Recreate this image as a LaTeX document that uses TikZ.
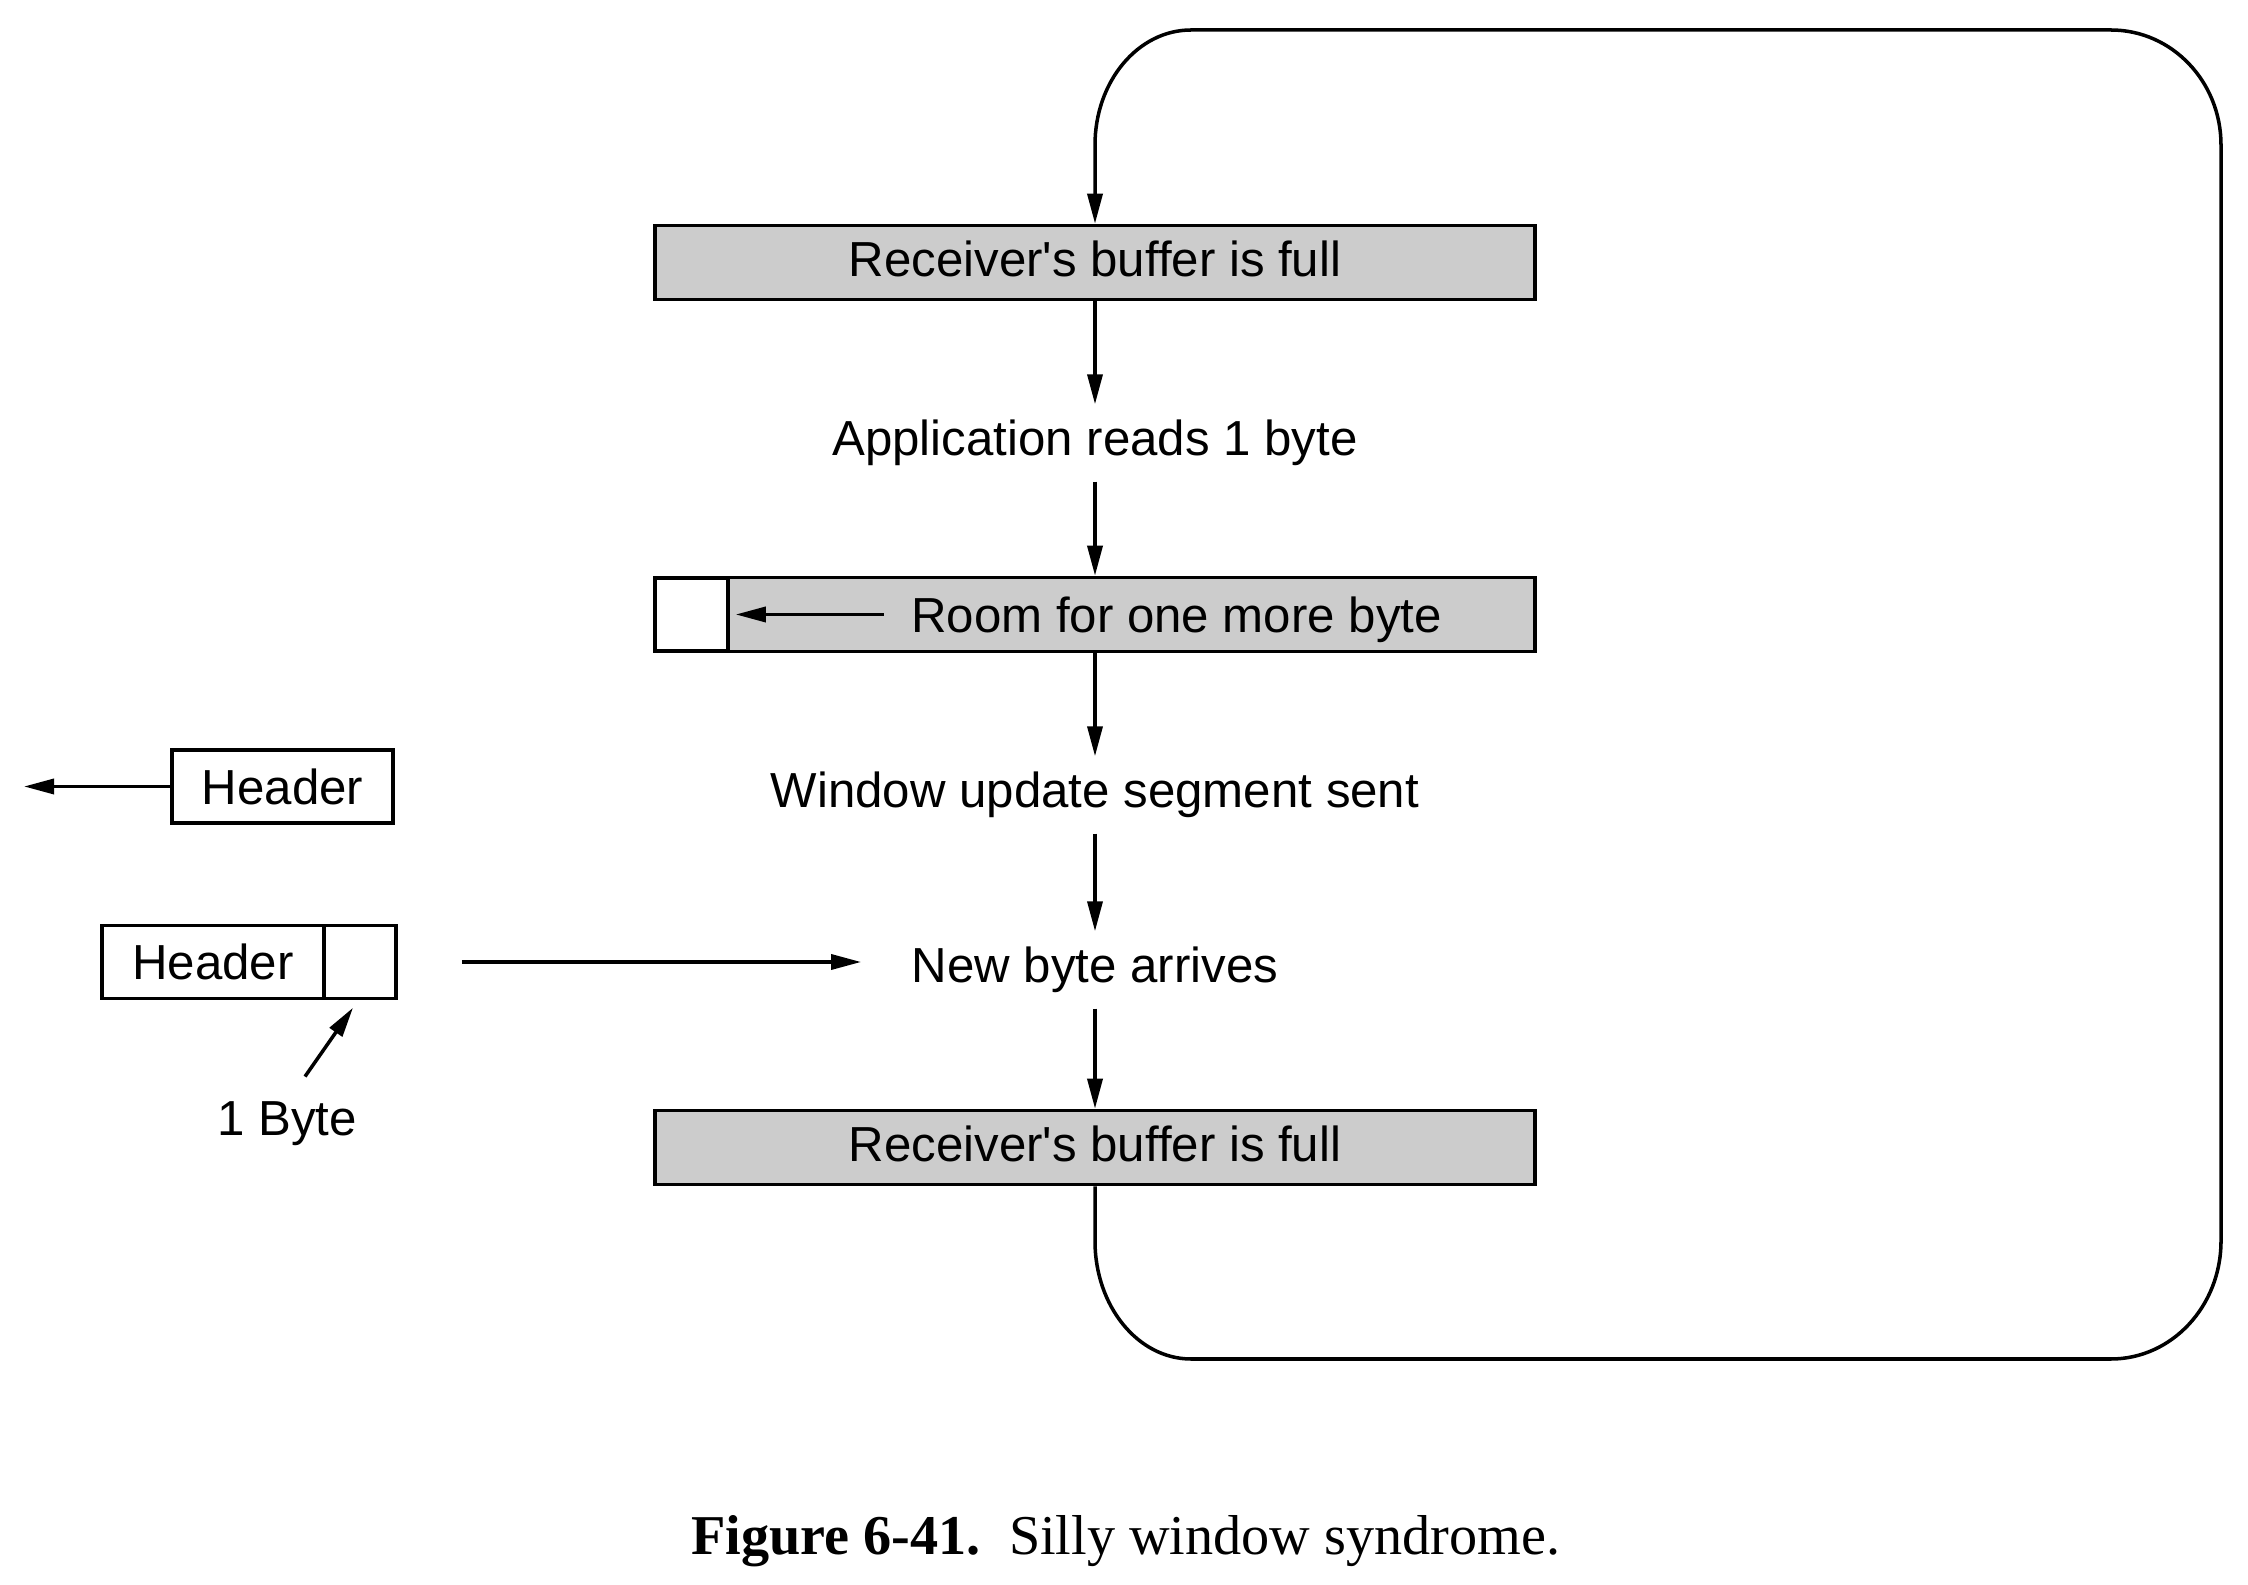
\documentclass[tikz,border=0pt]{standalone}
\usepackage{fontspec}
\setmainfont{Liberation Sans}
\newfontfamily\captionfont{Liberation Serif}
\usetikzlibrary{arrows.meta,positioning,calc}
\tikzset{
	buffer/.style={draw, fill=black!20, line width=1pt, minimum width=8.8cm,
		minimum height=0.74cm, inner sep=0pt, text depth=2.4pt},
	cell/.style={draw, fill=white, line width=1pt, minimum height=0.73cm, inner sep=0pt},
	arrow/.style={-{Triangle[length=3mm,width=1.5mm]}, line width=1pt},
	steptext/.style={inner xsep=1mm, minimum height=0.76cm}
}

\begin{document}
\begin{tikzpicture}[font=\fontsize{14}{17}\selectfont]
	\useasboundingbox (0,0) rectangle (22.48,15.84);
	
	%% -- Receiver side
	\node[buffer] (full1) at (10.95,13.215) {Receiver\textquotesingle s buffer is full};
	\node[steptext] (readone) at (10.95,11.41) {Application reads 1 byte};
	\node[buffer] (room) at (10.95,9.695) {};
	\node[cell, minimum width=0.73cm, anchor=west] (slot) at (room.west) {};
	\node[steptext] (roomtxt) at (11.765,9.64) {Room for one more byte};
	\node[steptext] (update) at (10.95,7.89) {Window update segment sent};
	\node[steptext] (arrive) at (10.95,6.14) {New byte arrives};
	\node[buffer] (full2) at (10.95,4.365) {Receiver\textquotesingle s buffer is full};
	
	\draw[arrow] (full1) -- (readone);
	\draw[arrow] (readone) -- (room);
	\draw[arrow, shorten <=0.17cm, shorten >=0.06cm] (roomtxt.west |- slot) -- (slot);
	\draw[arrow] (room) -- (update);
	\draw[arrow] (update) -- (arrive);
	\draw[arrow] (arrive) -- (full2);
	
	%% -- Back to the top
	\coordinate (loopbl) at (10.95,2.25);
	\coordinate (looptr) at (22.21,15.54);
	\draw[arrow] (full2.south) -- ($(full2.south |- loopbl)+(0,1.18)$)
	arc[start angle=180, end angle=270, x radius=0.96cm, y radius=1.18cm]
	-- ($(loopbl -| looptr)+(-1.1,0)$)
	arc[start angle=270, end angle=360, x radius=1.1cm, y radius=1.18cm]
	-- ($(looptr)+(0,-1.15)$)
	arc[start angle=0, end angle=90, x radius=1.1cm, y radius=1.15cm]
	-- ($(full1.north |- looptr)+(0.96,0)$)
	arc[start angle=90, end angle=180, x radius=0.96cm, y radius=1.15cm]
	-- (full1.north);
	
	%% -- Segments on the wire
	\node[cell, minimum width=2.21cm] (hdr1) at (2.825,7.975) {Header};
	\coordinate (sendout) at (0.24,7.975);
	\draw[arrow] (hdr1) -- (sendout);
	
	\node[cell, minimum width=2.22cm] (hdr2) at (2.13,6.22) {Header};
	\node[cell, minimum width=0.72cm, anchor=west] (byte) at ([xshift=-1pt]hdr2.east) {};
	\draw[arrow, shorten <=0.64cm, shorten >=0.4cm] (byte.east) -- (byte.east -| arrive.west);
	
	\node (onebyte) at (2.87,4.6) {1 Byte};
	\draw[arrow] ([xshift=0.18cm,yshift=0.13cm]onebyte.north)
	-- ([xshift=-0.07cm,yshift=-0.075cm]byte.south);
	
	%% -- Caption
	\node[font=\captionfont\fontsize{16}{19}\selectfont] (caption) at (11.26,0.43)
	{\textbf{Figure 6-41.}\enspace Silly window syndrome.};
	
\end{tikzpicture}
\end{document}
